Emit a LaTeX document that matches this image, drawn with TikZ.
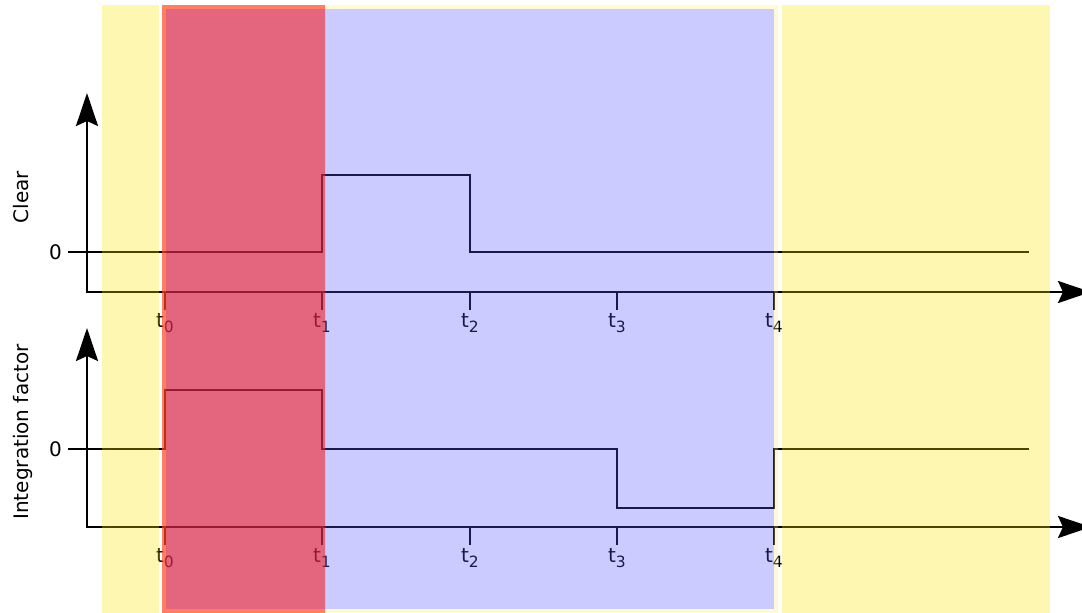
\documentclass[tikz,border=0pt]{standalone}
\usepackage{fontspec}
\setmainfont{DejaVu Sans}
\usetikzlibrary{arrows.meta}
\definecolor{yelc}{RGB}{250,230,0}
\definecolor{redc}{RGB}{217,36,72}
\definecolor{orac}{RGB}{255,73,33}
\definecolor{bluc}{RGB}{85,85,255}
\definecolor{lightc}{RGB}{255,240,120}
\newcommand\tsub[1]{t\raisebox{-5pt}{\fontsize{15.5}{15.5}\selectfont #1}}
\tikzset{
  axisline/.style={line width=2.3pt, line join=miter},
  sig/.style={line width=2.3pt, line join=miter},
  tickline/.style={line width=2.3pt},
  ticklabel/.style={anchor=base, inner sep=0pt},
  zerolabel/.style={anchor=east, inner sep=0pt},
  ylabel/.style={anchor=base, rotate=90, inner sep=0pt},
  arr/.tip={Stealth[length=33pt,width=22pt,inset=5pt]},
}
\begin{document}
\begin{tikzpicture}[x=1pt,y=-1pt,font=\fontsize{20}{24}\selectfont]
\useasboundingbox (0,0) rectangle (1082,613);
\fill[white] (0,0) rectangle (1082,613);

% ---------- top panel ----------
\coordinate (o1) at (87,292);
\coordinate (yt1) at (87,93);
\coordinate (xt1) at (1091,292);
\draw[axisline,arr-arr] (yt1) -- (o1) -- (xt1);
\coordinate (z1) at (68,252);
\node[zerolabel] (zl1) at (62,252) {0};
\draw[sig] (z1) -- (322,252) -- (322,175) -- (470,175) -- (470,252) -- (1029,252);
\node[ylabel] (lab1) at (28,197) {Clear};
\foreach \i/\x in {0/165,1/322,2/470,3/617,4/774}{
  \coordinate (a\i) at (\x,292);
  \draw[tickline] (a\i) -- ++(0,18);
  \node[ticklabel] (ta\i) at (\x,327) {\tsub{\i}};
}

% ---------- bottom panel ----------
\coordinate (o2) at (87,527);
\coordinate (yt2) at (87,328);
\coordinate (xt2) at (1091,527);
\draw[axisline,arr-arr] (yt2) -- (o2) -- (xt2);
\coordinate (z2) at (68,449);
\node[zerolabel] (zl2) at (62,449) {0};
\draw[sig] (z2) -- (165,449) -- (165,390) -- (322,390) -- (322,449) -- (617,449)
  -- (617,508) -- (774,508) -- (774,449) -- (1029,449);
\node[ylabel] (lab2) at (28,432) {Integration factor};
\foreach \i/\x in {0/165,1/322,2/470,3/617,4/774}{
  \coordinate (b\i) at (\x,527);
  \draw[tickline] (b\i) -- ++(0,18);
  \node[ticklabel] (tb\i) at (\x,562) {\tsub{\i}};
}

% ---------- translucent phase areas ----------
\fill[yelc, opacity=0.3] (102,5) rectangle (159,613);
\fill[yelc, opacity=0.3] (782,5) rectangle (1050,613);
\fill[redc, opacity=0.7] (166,9) rectangle (325,609);
\fill[orac, opacity=0.7, even odd rule] (162,5) rectangle (325,613) (166,9) rectangle (325,609);
\fill[bluc, opacity=0.3] (325,9) rectangle (774,609);
\fill[lightc, opacity=0.3, even odd rule] (325,5) rectangle (778,613) (325,9) rectangle (774,609);
\end{tikzpicture}
\end{document}
